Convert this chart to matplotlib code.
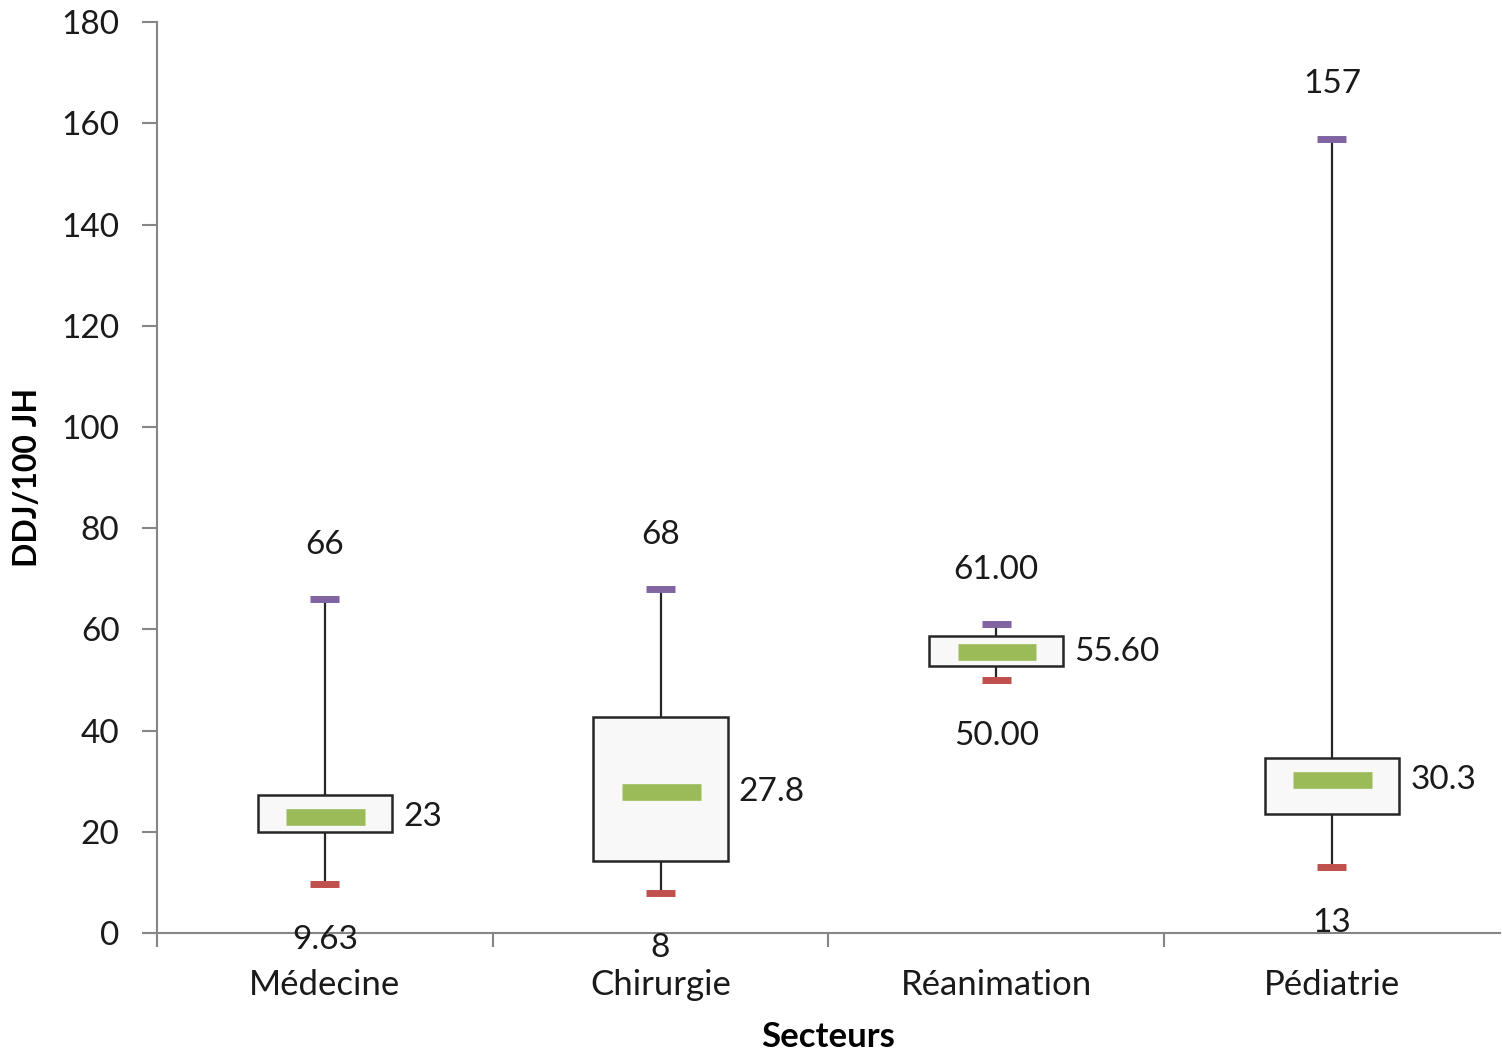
import matplotlib.pyplot as plt
from matplotlib.patches import Rectangle

plt.rcParams['font.family'] = ['Lato', 'DejaVu Sans']

secteurs = ['Médecine', 'Chirurgie', 'Réanimation', 'Pédiatrie']
q1 = [20.0, 14.3, 52.7, 23.5]
q3 = [27.2, 42.7, 58.7, 34.6]
mediane = [23, 27.8, 55.6, 30.3]
minimum = [9.63, 8, 50, 13]
maximum = [66, 68, 61, 157]
lab_med = ['23', '27.8', '55.60', '30.3']
lab_min = ['9.63', '8', '50.00', '13']
lab_max = ['66', '68', '61.00', '157']

fig = plt.figure(figsize=(15.02, 10.55), dpi=100)
ax = fig.add_axes([0.1045, 0.1156, 0.894, 0.8634])

gris = '#868686'
noir = '#1a1a1a'
for i in range(len(secteurs)):
    x = i + 0.5
    # moustaches
    ax.plot([x, x], [minimum[i], q1[i]], color='#262626', lw=1.6, zorder=1)
    ax.plot([x, x], [q3[i], maximum[i]], color='#262626', lw=1.6, zorder=1)
    # boite
    ax.add_patch(Rectangle((x - 0.2, q1[i]), 0.4, q3[i] - q1[i],
                           facecolor='#f8f8f8', edgecolor='#262626', lw=1.8, zorder=2))
    # mediane, min, max
    ax.hlines(mediane[i], x - 0.115, x + 0.12, color='#9bbb59', lw=12, zorder=3)
    ax.hlines(maximum[i], x - 0.043, x + 0.043, color='#8064a2', lw=5, zorder=3)
    ax.hlines(minimum[i], x - 0.043, x + 0.043, color='#c0504d', lw=5, zorder=3)
    ax.annotate(lab_max[i], (x, maximum[i]), xytext=(0, 39), textcoords='offset points',
                ha='center', va='center', fontsize=24, color=noir)
    ax.annotate(lab_min[i], (x, minimum[i]), xytext=(0, -40), textcoords='offset points',
                ha='center', va='center', fontsize=24, color=noir)
    ax.annotate(lab_med[i], (x + 0.2, mediane[i]), xytext=(8, 0), textcoords='offset points',
                ha='left', va='center', fontsize=24, color=noir)

ax.set_xlim(0, 4)
ax.set_ylim(0, 180)
ax.set_yticks(range(0, 181, 20))
ax.set_xticks([0, 1, 2, 3])
ax.set_xticklabels([])
ax.set_xticks([0.5, 1.5, 2.5, 3.5], minor=True)
ax.set_xticklabels(secteurs, minor=True)
ax.tick_params(axis='x', which='major', length=10, width=1.5, color=gris, direction='out')
ax.tick_params(axis='x', which='minor', length=0, pad=26, labelsize=25, labelcolor=noir)
ax.tick_params(axis='y', length=11, width=1.5, color=gris, pad=16, labelsize=24, labelcolor=noir)

for s in ['top', 'right']:
    ax.spines[s].set_visible(False)
for s in ['left', 'bottom']:
    ax.spines[s].set_color(gris)
    ax.spines[s].set_linewidth(1.5)

ax.set_xlabel('Secteurs', fontsize=25, fontweight='bold', labelpad=14)
ax.set_ylabel('DDJ/100 JH', fontsize=23, fontweight='bold', labelpad=14)

plt.savefig('out.png', dpi=100)
